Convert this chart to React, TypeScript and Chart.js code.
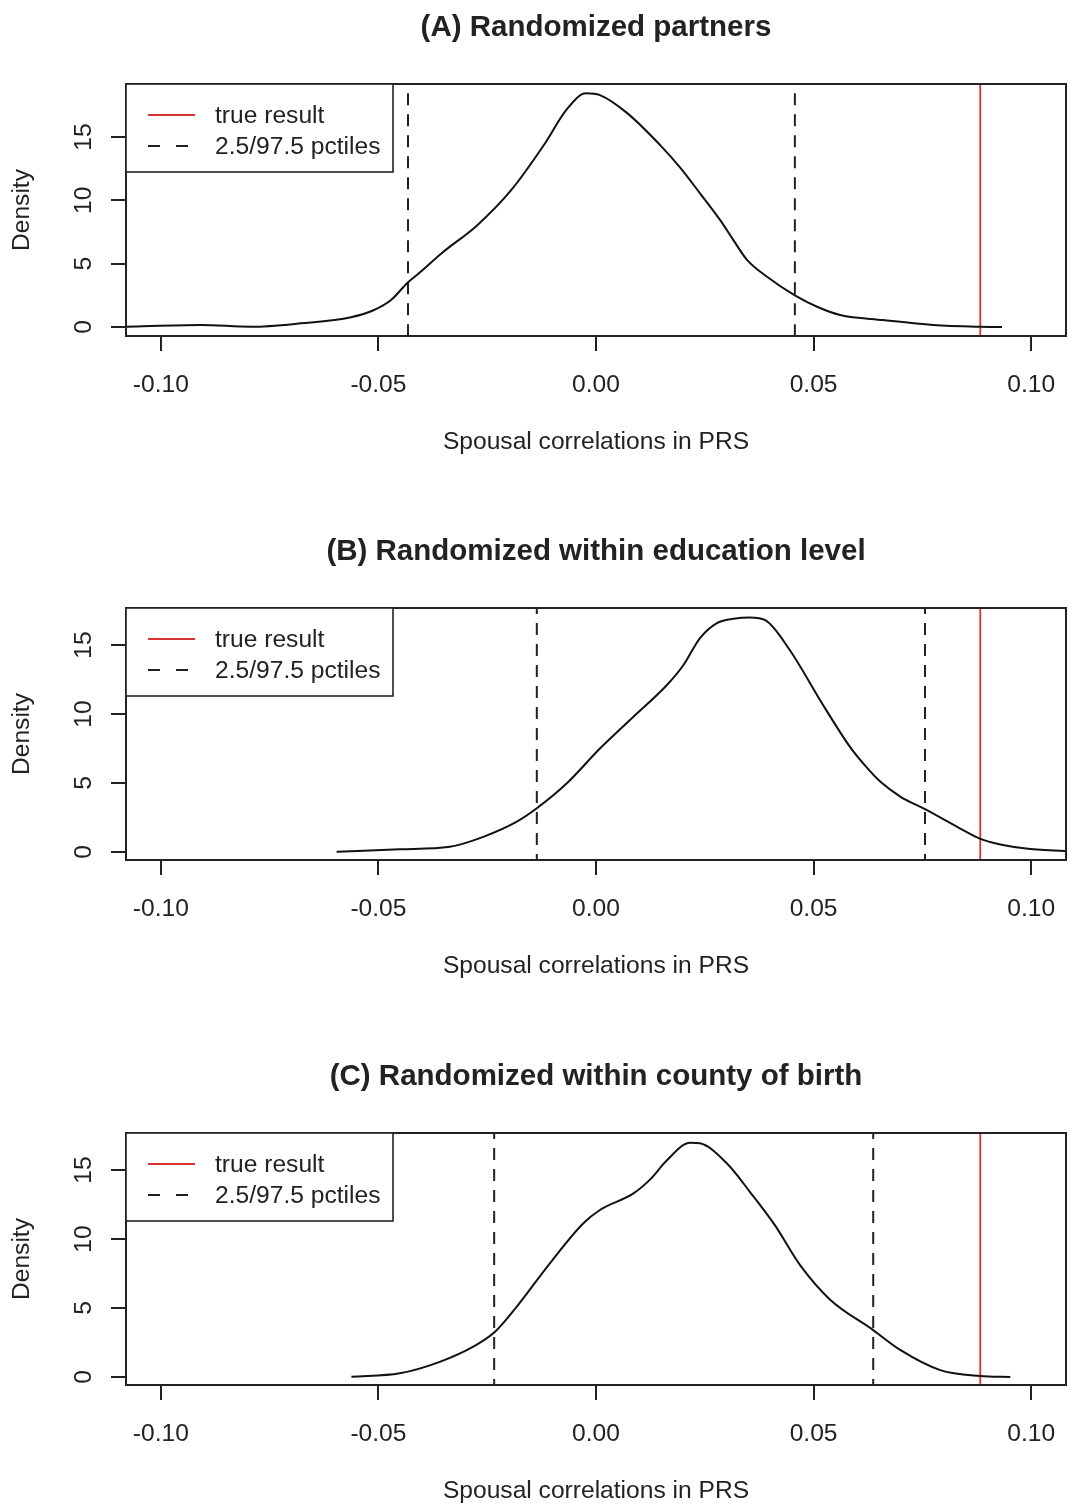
import React, { useEffect, useRef } from 'react';
import { Chart, registerables } from 'chart.js';

Chart.register(...registerables);

// ---------- data ----------
const panelTitles = [
  '(A) Randomized partners',
  '(B) Randomized within education level',
  '(C) Randomized within county of birth',
];
const xAxisTitle = 'Spousal correlations in PRS';
const yAxisTitle = 'Density';
const legendLabels = ['true result', '2.5/97.5 pctiles'];

const xTicks = [-0.1, -0.05, 0, 0.05, 0.1];
const yTicks = [0, 5, 10, 15];
const xRange = [-0.108, 0.108];
const yRanges = [
  [-0.71, 19.18],
  [-0.58, 17.68],
  [-0.58, 17.68],
];

// Panel A density
const densityAx = [-0.108, -0.0908, -0.0793, -0.0678, -0.0563, -0.051, -0.0471, -0.0433, -0.0405, -0.0352, -0.0274, -0.0195, -0.0117, -0.0069, -0.0023, 0.0009, 0.0071, 0.0149, 0.0193, 0.0239, 0.0285, 0.0315, 0.0347, 0.0393, 0.0457, 0.0508, 0.0561, 0.066, 0.0775, 0.0883, 0.0933];
const densityAy = [0.02, 0.16, 0.02, 0.29, 0.77, 1.34, 2.13, 3.5, 4.3, 5.9, 8.0, 10.8, 14.5, 17.1, 18.45, 18.3, 16.9, 14.3, 12.6, 10.55, 8.45, 6.9, 5.3, 3.97, 2.5, 1.6, 0.95, 0.55, 0.16, 0.02, 0.0];

// Panel B density
const densityBx = [-0.0596, -0.0451, -0.0336, -0.0259, -0.0182, -0.0136, -0.0067, 0.0009, 0.0086, 0.0163, 0.0201, 0.0239, 0.0277, 0.0316, 0.0354, 0.0389, 0.0446, 0.0515, 0.0584, 0.062, 0.0653, 0.07, 0.0756, 0.0837, 0.0883, 0.0929, 0.0998, 0.108, 0.115];
const densityBy = [0.02, 0.2, 0.38, 1.1, 2.2, 3.17, 4.98, 7.5, 9.8, 12.1, 13.55, 15.5, 16.57, 16.9, 17.0, 16.8, 14.6, 11.0, 7.6, 6.2, 5.1, 4.0, 3.1, 1.7, 0.95, 0.55, 0.22, 0.07, 0.04];

// Panel C density
const densityCx = [-0.0562, -0.0451, -0.0359, -0.0282, -0.0232, -0.0182, -0.0106, -0.0029, 0.0009, 0.0086, 0.0124, 0.0163, 0.0216, 0.0239, 0.03, 0.0354, 0.0411, 0.0469, 0.0538, 0.0637, 0.0699, 0.0791, 0.0883, 0.0952];
const densityCy = [0.02, 0.27, 1.1, 2.2, 3.28, 5.1, 8.24, 11.14, 12.1, 13.3, 14.3, 15.7, 16.98, 16.93, 15.5, 13.4, 11.0, 8.1, 5.6, 3.4, 1.96, 0.5, 0.07, 0.0];

const trueResults = [0.0883, 0.0883, 0.0883];
const lowerPctiles = [-0.0432, -0.0136, -0.0234];
const upperPctiles = [0.0457, 0.0756, 0.0637];

const densX = [densityAx, densityBx, densityCx];
const densY = [densityAy, densityBy, densityCy];

// ---------- styling ----------
const FONT = "'Liberation Sans', Arial, Helvetica, sans-serif";
const TEXT = '#222222';
const RED = '#d83232';
const DASH = [12, 9];
const W = 1069;
const H = 524;
const panelTops = [0, 524, 1049];

const rFrame = {
  id: 'rFrame',
  afterDatasetsDraw(chart: any) {
    const { ctx, chartArea: a } = chart;
    ctx.save();
    ctx.strokeStyle = TEXT;
    ctx.lineWidth = 2;
    ctx.strokeRect(a.left, a.top, a.right - a.left, a.bottom - a.top);

    // legend (top-left, R style)
    const lw = 267;
    const lh = 88;
    ctx.fillStyle = '#ffffff';
    ctx.fillRect(a.left, a.top, lw, lh);
    ctx.lineWidth = 1.6;
    ctx.strokeRect(a.left, a.top, lw, lh);
    const items = chart.data.datasets.filter((d: any) => d.inLegend);
    items.forEach((d: any, i: number) => {
      const y = a.top + 31 + i * 31;
      const dashed = d.borderDash && d.borderDash.length;
      ctx.beginPath();
      ctx.strokeStyle = d.borderColor;
      ctx.lineWidth = 2;
      ctx.setLineDash(dashed ? [12, 16] : []);
      ctx.moveTo(a.left + 22, y);
      ctx.lineTo(a.left + (dashed ? 62 : 69), y);
      ctx.stroke();
      ctx.setLineDash([]);
      ctx.fillStyle = TEXT;
      ctx.font = `24.6px ${FONT}`;
      ctx.textBaseline = 'middle';
      ctx.textAlign = 'left';
      ctx.fillText(d.label, a.left + 89, y + 1);
    });
    ctx.restore();
  },
};

function Panel({ idx }: { idx: number }) {
  const ref = useRef<HTMLCanvasElement | null>(null);
  useEffect(() => {
    if (!ref.current) return;
    const [yMin, yMax] = yRanges[idx];
    const curve = densX[idx].map((x, i) => ({ x, y: densY[idx][i] }));
    const vline = (x: number) => [
      { x, y: yMin - 5 },
      { x, y: yMax + 5 },
    ];
    const chart = new Chart(ref.current, {
      type: 'line',
      data: {
        datasets: [
          {
            label: 'density',
            data: curve,
            borderColor: '#111111',
            borderWidth: 2,
            pointRadius: 0,
            cubicInterpolationMode: 'monotone',
            fill: false,
          } as any,
          {
            label: legendLabels[0],
            inLegend: true,
            data: vline(trueResults[idx]),
            borderColor: RED,
            borderWidth: 1.8,
            pointRadius: 0,
          } as any,
          {
            label: legendLabels[1],
            inLegend: true,
            data: vline(lowerPctiles[idx]),
            borderColor: '#222222',
            borderWidth: 2,
            borderDash: DASH,
            pointRadius: 0,
          } as any,
          {
            label: legendLabels[1],
            data: vline(upperPctiles[idx]),
            borderColor: '#222222',
            borderWidth: 2,
            borderDash: DASH,
            pointRadius: 0,
          } as any,
        ],
      },
      options: {
        animation: false,
        responsive: false,
        devicePixelRatio: 1,
        layout: { padding: { left: 0, right: 3, top: 0, bottom: 0 } },
        plugins: {
          legend: { display: false },
          tooltip: { enabled: false },
          title: {
            display: true,
            text: panelTitles[idx],
            fullSize: false,
            color: TEXT,
            font: { family: FONT, size: 29.5, weight: 'bold' },
            padding: { top: 10.3, bottom: 38.3 },
          },
        },
        scales: {
          x: {
            type: 'linear',
            min: xRange[0],
            max: xRange[1],
            afterBuildTicks: (s: any) => {
              s.ticks = xTicks.map((v) => ({ value: v }));
            },
            afterFit: (s: any) => {
              s.height = H - 336;
              s.paddingLeft = 0;
              s.paddingRight = 0;
            },
            border: { display: false },
            grid: {
              drawOnChartArea: false,
              drawTicks: true,
              tickLength: 15,
              color: TEXT,
              lineWidth: 2,
            },
            ticks: {
              color: TEXT,
              font: { family: FONT, size: 24.6 },
              padding: 19,
              maxRotation: 0,
              autoSkip: false,
              callback: (v: any) => Number(v).toFixed(2),
            },
            title: {
              display: true,
              text: xAxisTitle,
              color: TEXT,
              font: { family: FONT, size: 24.6 },
              padding: { top: 0, bottom: 67.2 },
            },
          },
          y: {
            type: 'linear',
            min: yMin,
            max: yMax,
            afterBuildTicks: (s: any) => {
              s.ticks = yTicks.map((v) => ({ value: v }));
            },
            afterFit: (s: any) => {
              s.width = 126;
              s.paddingTop = 0;
              s.paddingBottom = 0;
            },
            border: { display: false },
            grid: {
              drawOnChartArea: false,
              drawTicks: true,
              tickLength: 15,
              color: TEXT,
              lineWidth: 2,
            },
            ticks: {
              color: TEXT,
              font: { family: FONT, size: 24.6 },
              minRotation: 90,
              maxRotation: 90,
              crossAlign: 'center',
              padding: 13.3,
              autoSkip: false,
              callback: (v: any) => String(v),
            },
            title: {
              display: true,
              text: yAxisTitle,
              color: TEXT,
              font: { family: FONT, size: 24.6 },
              padding: { top: 7.8, bottom: 0 },
            },
          },
        },
      } as any,
      plugins: [rFrame],
    });
    return () => chart.destroy();
  }, [idx]);
  return (
    <canvas
      ref={ref}
      width={W}
      height={H}
      style={{ position: 'absolute', left: 0, top: panelTops[idx], width: W, height: H, display: 'block' }}
    />
  );
}

export default function App() {
  return (
    <div
      style={{
        position: 'absolute',
        left: 0,
        top: 0,
        width: W,
        height: 1504,
        overflow: 'hidden',
        background: '#ffffff',
      }}
    >
      {[0, 1, 2].map((i) => (
        <Panel key={i} idx={i} />
      ))}
    </div>
  );
}
